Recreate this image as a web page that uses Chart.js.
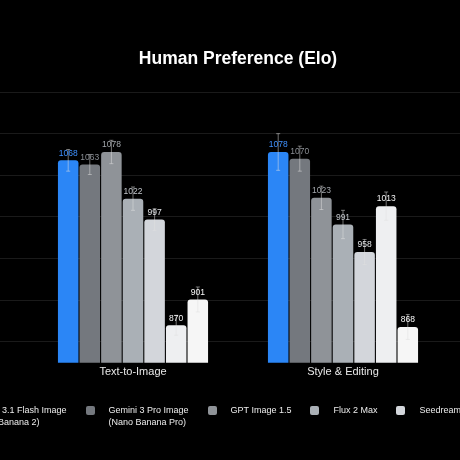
<!DOCTYPE html>
<html>
<head>
<meta charset="utf-8">
<script src="https://cdn.jsdelivr.net/npm/chart.js@4.4.1/dist/chart.umd.min.js"></script>
<style>
    html, body { margin: 0; padding: 0; background: #000; overflow: hidden; }
    #wrap { position: relative; width: 460px; height: 460px; }
    #chart { position: absolute; left: 0; top: 0; }
    #legend {
        position: absolute; top: 404px; left: -52px;
        display: flex; gap: 19px; white-space: nowrap;
        font: 9px "Liberation Sans", Arial, sans-serif; line-height: 12px; color: #ececec;
    }
    .item { display: flex; align-items: flex-start; }
    .box { width: 9px; height: 9px; border-radius: 2px; margin: 1.5px 14px 0 0; flex: none; }
</style>
</head>
<body>
<div id="wrap">
    <canvas id="chart" width="460" height="460"></canvas>
    <div id="legend"></div>
</div>
<script>
    const categories = ["Text-to-Image", "Style & Editing"];
    const seriesNames = [
        ["Gemini 3.1 Flash Image", "(Nano Banana 2)"],
        ["Gemini 3 Pro Image", "(Nano Banana Pro)"],
        ["GPT Image 1.5"],
        ["Flux 2 Max"],
        ["Seedream 4.5"],
        ["Grok Imagine Image"],
        ["Qwen Image"]
    ];
    const textToImage = [1068, 1063, 1078, 1022, 997, 870, 901];
    const styleEditing = [1078, 1070, 1023, 991, 958, 1013, 868];
    const errTextToImage = [13, 12, 14, 14, 13, 12, 15];
    const errStyleEditing = [22, 15, 14, 17, 15, 17, 15];
    const barColors = ['#2b86f6', '#74787e', '#8f9398', '#aab0b6', '#d3d6db', '#eeeff1', '#f6f6f6'];
    const labelColors = ['#3f91ff', '#8a8e94', '#a3a7ac', '#c0c4c9', '#e2e4e7', '#f4f4f4', '#f8f8f8'];
    const yMin = 825;
    const yMax = 1150;
    const yStep = 50;

    const fontFamily = '"Liberation Sans", Arial, sans-serif';

    const datasets = seriesNames.map((name, i) => ({
        label: name.join(' '),
        data: [textToImage[i], styleEditing[i]],
        errors: [errTextToImage[i], errStyleEditing[i]],
        backgroundColor: barColors[i],
        labelColor: labelColors[i],
        borderWidth: 0,
        borderRadius: { topLeft: 3, topRight: 3 },
        borderSkipped: 'bottom',
        categoryPercentage: 0.72,
        barPercentage: 0.95
    }));

    // whiskers + value labels on top of each bar
    const barDecorations = {
        id: 'barDecorations',
        afterDatasetsDraw(chart) {
            const ctx = chart.ctx;
            const y = chart.scales.y;
            chart.data.datasets.forEach((ds, di) => {
                const meta = chart.getDatasetMeta(di);
                meta.data.forEach((bar, i) => {
                    const v = ds.data[i];
                    const e = ds.errors[i];
                    const yHi = y.getPixelForValue(v + e);
                    const yLo = y.getPixelForValue(v - e);
                    ctx.save();
                    ctx.strokeStyle = 'rgba(225,225,225,0.5)';
                    ctx.lineWidth = 1;
                    ctx.beginPath();
                    ctx.moveTo(bar.x, yHi); ctx.lineTo(bar.x, yLo);
                    ctx.moveTo(bar.x - 2, yHi); ctx.lineTo(bar.x + 2, yHi);
                    ctx.moveTo(bar.x - 2, yLo); ctx.lineTo(bar.x + 2, yLo);
                    ctx.stroke();
                    ctx.fillStyle = ds.labelColor;
                    ctx.font = '8.5px ' + fontFamily;
                    ctx.textAlign = 'center';
                    ctx.textBaseline = 'middle';
                    ctx.fillText(String(v), bar.x, bar.y - 7);
                    ctx.restore();
                });
            });
        }
    };

    const gridColor = '#1a1a1a';

    new Chart(document.getElementById('chart').getContext('2d'), {
        type: 'bar',
        data: { labels: categories, datasets: datasets },
        options: {
            responsive: false,
            animation: false,
            layout: { padding: { bottom: 78 } },
            plugins: {
                legend: { display: false },
                tooltip: { enabled: false },
                title: {
                    display: true,
                    fullSize: false,
                    text: 'Human Preference (Elo)',
                    color: '#ffffff',
                    font: { family: fontFamily, size: 17.5, weight: 'bold' },
                    padding: { top: 49, bottom: 22 }
                }
            },
            scales: {
                x: {
                    grid: { display: false, drawTicks: false },
                    border: { display: false },
                    ticks: { color: '#e8e8e8', padding: 3, font: { family: fontFamily, size: 11 } }
                },
                y: {
                    position: 'left',
                    min: yMin, max: yMax,
                    border: { display: false },
                    grid: { color: gridColor, tickColor: gridColor, tickLength: 28 },
                    ticks: { display: false, stepSize: yStep, includeBounds: false },
                    afterFit(scale) { scale.width = 28; }
                },
                y2: {
                    position: 'right',
                    min: yMin, max: yMax,
                    border: { display: false },
                    grid: { drawOnChartArea: false, color: gridColor, tickColor: gridColor, tickLength: 12 },
                    ticks: { display: false, stepSize: yStep, includeBounds: false },
                    afterFit(scale) { scale.width = 12; }
                }
            }
        },
        plugins: [barDecorations]
    });

    // legend
    const legendEl = document.getElementById('legend');
    seriesNames.forEach((name, i) => {
        const item = document.createElement('div');
        item.className = 'item';
        const box = document.createElement('span');
        box.className = 'box';
        box.style.background = barColors[i];
        const txt = document.createElement('span');
        txt.innerHTML = name.join('<br>');
        item.appendChild(box);
        item.appendChild(txt);
        legendEl.appendChild(item);
    });
</script>
</body>
</html>
